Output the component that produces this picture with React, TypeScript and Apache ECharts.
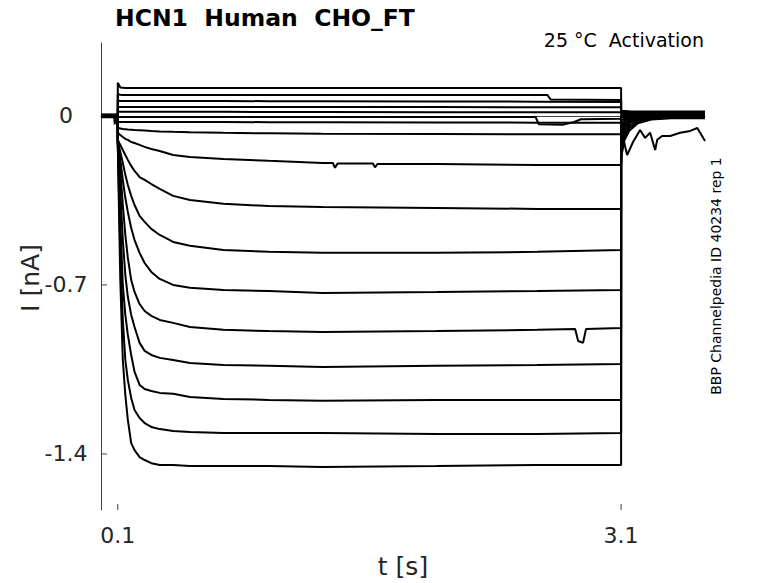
import React, { useEffect, useRef } from "react";
import * as echarts from "echarts";

// ---- time bases (s) ----
const T_ON = [0.1, 0.115, 0.13, 0.145, 0.16, 0.18, 0.2, 0.23, 0.26, 0.3, 0.35, 0.43, 0.53, 0.73, 1.0, 1.32, 2.0, 2.6, 3.1];
const T_OFF = [3.1, 3.12, 3.15, 3.2, 3.28, 3.4, 3.6];

// ---- activation-phase currents (nA) ----
const ON_1 = [0.137, 0.118, 0.117, 0.116, 0.116, 0.116, 0.116, 0.116, 0.116, 0.116, 0.116, 0.116, 0.116, 0.116, 0.116, 0.116, 0.116, 0.116, 0.116];
const ON_2 = [0.09, 0.088, 0.087, 0.087, 0.087, 0.087, 0.087, 0.087, 0.087, 0.087, 0.087, 0.087, 0.087, 0.087, 0.087, 0.087, 0.087, 0.087, 0.066];
const ON_3 = [0.064, 0.062, 0.062, 0.062, 0.062, 0.062, 0.062, 0.062, 0.062, 0.062, 0.062, 0.062, 0.062, 0.062, 0.061, 0.061, 0.06, 0.059, 0.058];
const ON_4 = [0.037, 0.037, 0.037, 0.037, 0.037, 0.037, 0.037, 0.037, 0.037, 0.037, 0.037, 0.037, 0.037, 0.037, 0.037, 0.037, 0.037, 0.036, 0.036];
const ON_5 = [0.017, 0.017, 0.017, 0.017, 0.017, 0.017, 0.017, 0.017, 0.017, 0.017, 0.017, 0.017, 0.017, 0.017, 0.016, 0.016, 0.015, 0.015, 0.015];
const ON_6 = [-0.004, -0.004, -0.004, -0.004, -0.004, -0.004, -0.004, -0.004, -0.004, -0.004, -0.004, -0.004, -0.004, -0.004, -0.004, -0.004, -0.004, -0.02, -0.012];
const ON_7 = [-0.025, -0.025, -0.025, -0.025, -0.025, -0.025, -0.025, -0.025, -0.025, -0.025, -0.025, -0.025, -0.025, -0.025, -0.026, -0.026, -0.027, -0.028, -0.028];
const ON_A = [-0.05, -0.052, -0.054, -0.055, -0.056, -0.057, -0.058, -0.059, -0.06, -0.062, -0.064, -0.066, -0.068, -0.07, -0.072, -0.074, -0.075, -0.076, -0.076];
const ON_B = [-0.07, -0.079, -0.087, -0.095, -0.099, -0.108, -0.112, -0.12, -0.128, -0.137, -0.145, -0.162, -0.17, -0.178, -0.186, -0.195, -0.199, -0.203, -0.203];
const ON_C = [-0.099, -0.12, -0.141, -0.162, -0.182, -0.207, -0.228, -0.253, -0.265, -0.282, -0.302, -0.331, -0.348, -0.364, -0.373, -0.377, -0.381, -0.385, -0.385];
const ON_D = [-0.104, -0.149, -0.195, -0.244, -0.286, -0.331, -0.369, -0.414, -0.439, -0.468, -0.493, -0.522, -0.538, -0.555, -0.563, -0.567, -0.567, -0.563, -0.555];
const ON_E = [-0.108, -0.182, -0.265, -0.34, -0.398, -0.464, -0.514, -0.567, -0.609, -0.646, -0.675, -0.7, -0.712, -0.721, -0.725, -0.733, -0.729, -0.725, -0.721];
const ON_F = [-0.108, -0.224, -0.369, -0.493, -0.588, -0.679, -0.729, -0.779, -0.808, -0.828, -0.845, -0.857, -0.874, -0.886, -0.891, -0.895, -0.891, -0.886, -0.878];
const ON_G = [-0.112, -0.307, -0.514, -0.659, -0.75, -0.824, -0.874, -0.94, -0.973, -0.99, -1.002, -1.011, -1.023, -1.031, -1.035, -1.04, -1.035, -1.031, -1.027];
const ON_H = [-0.112, -0.431, -0.7, -0.824, -0.907, -0.99, -1.06, -1.114, -1.131, -1.139, -1.147, -1.151, -1.164, -1.172, -1.176, -1.18, -1.176, -1.176, -1.176];
const ON_I = [-0.12, -0.555, -0.845, -1.011, -1.094, -1.168, -1.218, -1.251, -1.272, -1.288, -1.297, -1.305, -1.309, -1.313, -1.313, -1.313, -1.317, -1.317, -1.313];
const ON_J = [-0.12, -0.679, -1.011, -1.156, -1.259, -1.355, -1.384, -1.413, -1.425, -1.438, -1.446, -1.446, -1.45, -1.45, -1.45, -1.454, -1.45, -1.446, -1.446];

// ---- holding level before the step (nA) ----
const PRE_LEVELS = [0.006, 0.004, 0.003, 0.002, 0.001, 0.0, -0.001, -0.002, -0.003, 0.005, 0.0, -0.004, 0.002, -0.002, 0.004, -0.005, 0.0];

// ---- tail currents after the step (nA) ----
const OFF_1 = [0.02, 0.02, 0.019, 0.018, 0.018, 0.018, 0.018];
const OFF_2 = [0.016, 0.016, 0.015, 0.015, 0.015, 0.015, 0.015];
const OFF_3 = [0.013, 0.012, 0.012, 0.012, 0.012, 0.012, 0.012];
const OFF_4 = [0.01, 0.01, 0.01, 0.009, 0.009, 0.009, 0.009];
const OFF_5 = [0.006, 0.006, 0.006, 0.006, 0.006, 0.006, 0.006];
const OFF_6 = [0.002, 0.002, 0.002, 0.002, 0.002, 0.002, 0.002];
const OFF_7 = [-0.004, -0.004, -0.004, -0.004, -0.004, -0.004, -0.004];
const OFF_A = [-0.02, -0.01, -0.004, 0.0, 0.003, 0.004, 0.004];
const OFF_B = [-0.035, -0.018, -0.008, -0.003, 0.0, 0.002, 0.002];
const OFF_C = [-0.05, -0.025, -0.012, -0.005, -0.002, 0.0, 0.0];
const OFF_D = [-0.07, -0.035, -0.018, -0.008, -0.004, -0.002, -0.002];
const OFF_E = [-0.09, -0.045, -0.025, -0.012, -0.006, -0.003, -0.003];
const OFF_F = [-0.11, -0.06, -0.03, -0.015, -0.008, -0.004, -0.004];
const OFF_G = [-0.13, -0.075, -0.04, -0.02, -0.01, -0.006, -0.006];
const OFF_H = [-0.15, -0.09, -0.05, -0.025, -0.012, -0.008, -0.008];
const OFF_I = [-0.17, -0.1, -0.06, -0.03, -0.015, -0.01, -0.01];
// noisy tail of the largest trace: [t, I]
const OFF_J_POINTS: [number, number][] = [
  [3.1, -0.2], [3.112, -0.091], [3.136, -0.162], [3.171, -0.108], [3.213, -0.058], [3.243, -0.091],
  [3.273, -0.07], [3.303, -0.141], [3.315, -0.099], [3.344, -0.083], [3.392, -0.083], [3.452, -0.07],
  [3.512, -0.062], [3.554, -0.05], [3.571, -0.07], [3.6, -0.104],
];

// ---- isolated glitches: [t, I] ----
const EXTRA_2: [number, number][] = [[2.66, 0.087], [2.68, 0.068]];
const EXTRA_6: [number, number][] = [[2.59, -0.004], [2.61, -0.035], [2.75, -0.037], [2.82, -0.025], [2.86, -0.014]];
const EXTRA_B: [number, number][] = [[1.382, -0.195], [1.395, -0.215], [1.41, -0.197], [1.621, -0.197], [1.633, -0.213], [1.648, -0.199]];
const EXTRA_F: [number, number][] = [[2.826, -0.882], [2.844, -0.932], [2.873, -0.94], [2.891, -0.882]];
const EXTRA_J_PRE: [number, number][] = [[0.078, 0.0], [0.082, -0.035], [0.086, -0.004]];

// ---- axis ticks ----
const X_TICKS = [0.1, 3.1];
const Y_TICKS = [-1.4, -0.7, 0];
const X_RANGE = [0, 3.6];
const Y_RANGE = [-1.632, 0.302];

const ON_SETS = [ON_1, ON_2, ON_3, ON_4, ON_5, ON_6, ON_7, ON_A, ON_B, ON_C, ON_D, ON_E, ON_F, ON_G, ON_H, ON_I, ON_J];
const OFF_SETS: (number[] | null)[] = [OFF_1, OFF_2, OFF_3, OFF_4, OFF_5, OFF_6, OFF_7, OFF_A, OFF_B, OFF_C, OFF_D, OFF_E, OFF_F, OFF_G, OFF_H, OFF_I, null];
const EXTRAS: [number, number][][] = [[], EXTRA_2, [], [], [], EXTRA_6, [], [], EXTRA_B, [], [], [], EXTRA_F, [], [], [], EXTRA_J_PRE];

const FONT = '"DejaVu Sans", "Noto Sans", sans-serif';
const AXIS_COLOR = "#404040";
const TICK_LEN = 6;

function buildTrace(k: number): [number, number][] {
  const pts: [number, number][] = [];
  pts.push([0, PRE_LEVELS[k]]);
  pts.push([0.1, PRE_LEVELS[k]]);
  ON_SETS[k].forEach((v, i) => pts.push([T_ON[i], v]));
  const off = OFF_SETS[k];
  if (off) off.forEach((v, i) => pts.push([T_OFF[i], v]));
  else OFF_J_POINTS.forEach((p) => pts.push([p[0], p[1]]));
  const all = pts.concat(EXTRAS[k]);
  return all
    .map((p, i) => ({ p, i }))
    .sort((a, b) => a.p[0] - b.p[0] || a.i - b.i)
    .map((o) => o.p);
}

const textEl = (x: number, y: number, text: string, extra: any, rotation = 0) => ({
  type: "text",
  x,
  y,
  rotation,
  silent: true,
  style: {
    text,
    fontFamily: FONT,
    align: extra.align || "center",
    verticalAlign: "middle",
    textAlign: extra.align || "center",
    textVerticalAlign: "middle",
    ...extra,
  },
});

export default function App() {
  const ref = useRef<HTMLDivElement>(null);
  useEffect(() => {
    if (!ref.current) return;
    const chart = echarts.init(ref.current, null, { renderer: "svg" });
    const series = ON_SETS.map((_, k) => ({
      type: "line",
      data: buildTrace(k),
      showSymbol: false,
      symbol: "none",
      silent: true,
      clip: true,
      lineStyle: { color: "#000", width: 2 },
    }));
    const texts = [
      textEl(115, 18, "HCN1  Human  CHO_FT", { fontSize: 23.5, fontWeight: "bold", fill: "#000", align: "left" }),
      textEl(704, 40, "25 °C  Activation", { fontSize: 19, fill: "#000", align: "right" }),
      textEl(403, 566, "t [s]", { fontSize: 25, fill: "#262626" }),
      textEl(30, 278, "I [nA]", { fontSize: 25, fill: "#262626" }, Math.PI / 2),
      textEl(716, 276, "BBP Channelpedia ID 40234 rep 1", { fontSize: 14, fill: "#000" }, Math.PI / 2),
    ];
    chart.setOption({
      animation: false,
      backgroundColor: "#fff",
      grid: { left: 101, right: 73, top: 43, bottom: 73 },
      xAxis: {
        type: "value",
        min: X_RANGE[0],
        max: X_RANGE[1],
        axisLine: { show: true, lineStyle: { color: AXIS_COLOR, width: 1 } },
        axisTick: { show: false },
        axisLabel: {
          customValues: X_TICKS,
          formatter: (v: number) => v.toFixed(1),
          fontSize: 22,
          fontFamily: FONT,
          color: "#262626",
          margin: 14,
        },
        splitLine: { show: false },
      },
      yAxis: {
        type: "value",
        min: Y_RANGE[0],
        max: Y_RANGE[1],
        axisLine: { show: true, lineStyle: { color: AXIS_COLOR, width: 1 } },
        axisTick: { show: false },
        axisLabel: {
          customValues: Y_TICKS,
          formatter: (v: number) => (v === 0 ? "0" : v.toFixed(1)),
          fontSize: 22,
          fontFamily: FONT,
          color: "#262626",
          align: "center",
          margin: 35,
        },
        splitLine: { show: false },
      },
      graphic: texts,
      series,
    });
    // inward ticks, placed through the chart's own scales
    const ticks: any[] = [];
    X_TICKS.forEach((v) => {
      const p = chart.convertToPixel({ gridIndex: 0 }, [v, Y_RANGE[0]]) as number[];
      ticks.push({
        type: "line",
        silent: true,
        shape: { x1: p[0], y1: p[1], x2: p[0], y2: p[1] - TICK_LEN },
        style: { stroke: AXIS_COLOR, lineWidth: 1 },
      });
    });
    Y_TICKS.forEach((v) => {
      const p = chart.convertToPixel({ gridIndex: 0 }, [X_RANGE[0], v]) as number[];
      ticks.push({
        type: "line",
        silent: true,
        shape: { x1: p[0], y1: p[1], x2: p[0] + TICK_LEN, y2: p[1] },
        style: { stroke: AXIS_COLOR, lineWidth: 1 },
      });
    });
    chart.setOption({ graphic: [...texts, ...ticks] });
    return () => chart.dispose();
  }, []);
  return (
    <div
      ref={ref}
      style={{ position: "absolute", left: 0, top: 0, width: 778, height: 583, background: "#fff" }}
    />
  );
}
